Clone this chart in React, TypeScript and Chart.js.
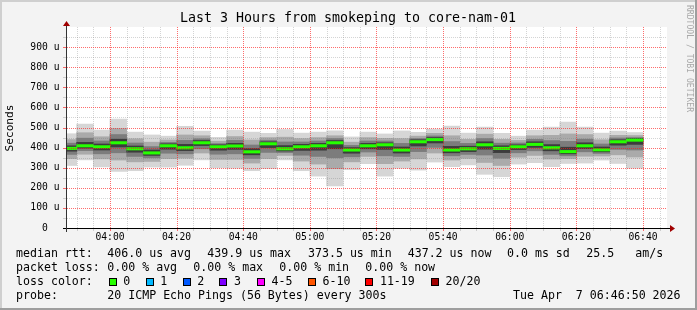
import React, { useEffect, useRef } from 'react';
import { Chart, registerables } from 'chart.js';

Chart.register(...registerables);

// ---------------- data ----------------
const chartTitle = 'Last 3 Hours from smokeping to core-nam-01';
const yAxisTitle = 'Seconds';
const watermark = 'RRDTOOL / TOBI OETIKER';

const axisStart = '03:47:06';
const axisEnd = '06:47:12';

// end time of each 5-minute sample
const binEnds = [
  '03:50', '03:55', '04:00', '04:05', '04:10', '04:15', '04:20', '04:25', '04:30', '04:35',
  '04:40', '04:45', '04:50', '04:55', '05:00', '05:05', '05:10', '05:15', '05:20', '05:25',
  '05:30', '05:35', '05:40', '05:45', '05:50', '05:55', '06:00', '06:05', '06:10', '06:15',
  '06:20', '06:25', '06:30', '06:35', '06:40',
];

// round-trip times in microseconds
const medianRtt = [396, 409, 404, 424, 394, 373.5, 409, 399, 424, 404, 408, 379, 419, 394, 404, 409, 424, 388, 409, 414, 388, 429, 439.9, 388, 394, 414, 396, 404, 416, 399, 380, 409, 389, 429, 437.2];
const maxRtt = [469, 517, 487, 542, 477, 463, 457, 506, 482, 451, 487, 477, 471, 490, 472, 477, 483, 453, 477, 468, 483, 476, 492, 507, 472, 502, 471, 457, 487, 502, 527, 502, 472, 482, 475];
const p90Rtt = [440, 474, 454, 495, 444, 427, 438, 463, 459, 432, 455, 438, 450, 452, 445, 450, 459, 427, 450, 446, 445, 457, 471, 459, 441, 467, 441, 436, 459, 461, 468, 465, 439, 461, 460];
const p75Rtt = [422, 447, 433, 465, 423, 405, 426, 436, 444, 420, 436, 413, 437, 428, 428, 433, 445, 411, 433, 433, 421, 445, 458, 430, 421, 445, 422, 423, 441, 435, 431, 442, 418, 448, 450];
const p60Rtt = [409, 426, 418, 442, 408, 388, 419, 416, 435, 414, 421, 395, 429, 410, 416, 421, 435, 400, 421, 424, 403, 439, 450, 406, 407, 429, 409, 414, 429, 415, 402, 424, 403, 439, 446];
const p40Rtt = [382, 397, 388, 403, 377, 361, 392, 385, 410, 387, 391, 364, 400, 383, 386, 387, 394, 372, 394, 391, 373, 408, 423, 374, 380, 392, 375, 390, 401, 384, 369, 395, 379, 412, 416];
const p25Rtt = [366, 385, 369, 374, 356, 349, 372, 369, 394, 367, 369, 346, 376, 375, 362, 356, 349, 354, 378, 359, 356, 380, 401, 359, 366, 363, 347, 374, 384, 366, 359, 379, 371, 391, 388];
const p10Rtt = [345, 367, 344, 338, 329, 331, 345, 347, 373, 341, 341, 323, 345, 361, 333, 318, 295, 329, 356, 320, 333, 344, 373, 338, 346, 326, 311, 352, 361, 343, 345, 357, 358, 364, 353];
const minRtt = [311, 339, 304, 281, 285, 303, 303, 312, 339, 299, 297, 285, 295, 339, 285, 258, 209, 290, 320, 258, 297, 288, 328, 305, 314, 267, 255, 318, 325, 305, 321, 323, 338, 321, 297];

const xTickLabels = ['04:00', '04:20', '04:40', '05:00', '05:20', '05:40', '06:00', '06:20', '06:40'];
const yMax = 1000;
const yStep = 50;
const yMajorStep = 100;
const yUnit = 'u';

const rttLabel = 'median rtt:';
const rttStats = ['406.0 us avg', '439.9 us max', '373.5 us min', '437.2 us now', '0.0 ms sd', '25.5', 'am/s'];
const lossLabel = 'packet loss:';
const lossStats = ['0.00 % avg', '0.00 % max', '0.00 % min', '0.00 % now'];
const lossColorLabel = 'loss color:';
const lossLabels = ['0', '1', '2', '3', '4-5', '6-10', '11-19', '20/20'];
const lossColors = ['#26ff00', '#00b8ff', '#0059ff', '#7e00ff', '#ff00ff', '#ff5500', '#ff0000', '#a10000'];
const probeLabel = 'probe:';
const probeText = '20 ICMP Echo Pings (56 Bytes) every 300s';
const timestamp = 'Tue Apr  7 06:46:50 2026';

// ---------------- helpers ----------------
const toMin = (s: string) => {
  const p = s.split(':').map(Number);
  return p[0] * 60 + p[1] + (p[2] || 0) / 60;
};
const xMin = toMin(axisStart);
const xMax = toMin(axisEnd);
const binWidth = 5;
const centers = binEnds.map((t) => toMin(t) - binWidth / 2);
const majorMinutes = xTickLabels.map(toMin);
const gridMinutes: number[] = [];
for (let m = Math.ceil(xMin / binWidth) * binWidth; m < xMax; m += binWidth) gridMinutes.push(m);
const gridValues: number[] = [];
for (let v = yStep; v < yMax; v += yStep) gridValues.push(v);

const band = (lo: number[], hi: number[]) => centers.map((x, i) => ({ x, y: [lo[i], hi[i]] }));
const medianBand = centers.map((x, i) => ({ x, y: [medianRtt[i] - 6, medianRtt[i] + 6] }));

const FONT = '"DejaVu Sans Mono", monospace';
const RED_GRID = 'rgba(255,20,20,0.62)';
const GRAY_GRID = 'rgba(120,120,120,0.32)';
const CLEAR = 'rgba(0,0,0,0)';

function txt(ctx: CanvasRenderingContext2D, s: string, x: number, y: number, size: number, align: CanvasTextAlign = 'left', color = '#000') {
  ctx.font = `${size}px ${FONT}`;
  ctx.fillStyle = color;
  ctx.textAlign = align;
  ctx.textBaseline = 'middle';
  ctx.fillText(s, x, y);
}

const decor = {
  id: 'decor',
  beforeDraw(chart: any) {
    const { ctx, chartArea: a, width, height } = chart;
    ctx.save();
    ctx.fillStyle = '#f3f3f3';
    ctx.fillRect(0, 0, width, height);
    ctx.fillStyle = '#cfcfcf';
    ctx.fillRect(0, 0, width, 2);
    ctx.fillRect(0, 0, 2, height);
    ctx.fillStyle = '#9e9e9e';
    ctx.fillRect(0, height - 2, width, 2);
    ctx.fillRect(width - 2, 0, 2, height);
    ctx.fillStyle = '#ffffff';
    ctx.fillRect(a.left, a.top, a.right - a.left, a.bottom - a.top);
    ctx.restore();
  },
  afterDatasetsDraw(chart: any) {
    // dotted rrdtool-style grid, positioned by the chart's scales
    const { ctx, chartArea: a, scales } = chart;
    const xs = scales.x, ys = scales.y;
    ctx.save();
    gridMinutes.forEach((m) => {
      const px = Math.round(xs.getPixelForValue(m));
      ctx.fillStyle = majorMinutes.indexOf(m) >= 0 ? RED_GRID : GRAY_GRID;
      for (let y = Math.ceil(a.top); y < a.bottom; y += 2) ctx.fillRect(px, y, 1, 1);
      ctx.fillRect(px, a.bottom + 1, 1, 2);
    });
    gridValues.forEach((v) => {
      const py = Math.round(ys.getPixelForValue(v));
      ctx.fillStyle = v % yMajorStep === 0 ? RED_GRID : GRAY_GRID;
      for (let x = a.left; x < a.right; x += 2) ctx.fillRect(x, py, 1, 1);
      ctx.fillRect(a.left - 4, py, 3, 1);
    });
    ctx.restore();
  },
  afterDraw(chart: any) {
    const { ctx, chartArea: a } = chart;
    ctx.save();
    // axes
    ctx.fillStyle = '#000';
    ctx.fillRect(a.left - 4, a.bottom, a.right - a.left + 7, 1);
    ctx.fillStyle = '#333';
    ctx.fillRect(a.left - 1, a.top - 3, 1, a.bottom - a.top + 7);
    // arrows
    ctx.fillStyle = '#a00000';
    ctx.beginPath();
    ctx.moveTo(a.left - 0.5, a.top - 6);
    ctx.lineTo(a.left - 4, a.top - 1);
    ctx.lineTo(a.left + 3, a.top - 1);
    ctx.closePath();
    ctx.fill();
    ctx.beginPath();
    ctx.moveTo(a.right + 8, a.bottom + 0.5);
    ctx.lineTo(a.right + 3, a.bottom - 3);
    ctx.lineTo(a.right + 3, a.bottom + 4);
    ctx.closePath();
    ctx.fill();

    // title & side texts
    txt(ctx, chartTitle, 348, 19, 13.3, 'center');
    ctx.save();
    ctx.translate(10.5, 128);
    ctx.rotate(-Math.PI / 2);
    txt(ctx, yAxisTitle, 0, 0, 11.2, 'center');
    ctx.restore();
    ctx.save();
    ctx.translate(689, 58.5);
    ctx.rotate(Math.PI / 2);
    txt(ctx, watermark, 0, 0, 8.1, 'center', '#a8a8a8');
    ctx.restore();

    // legend
    const L = 11.6;
    const y1 = 254, y2 = 268.3, y3 = 282.3, y4 = 296.3;
    txt(ctx, rttLabel, 16, y1, L);
    const rttX = [107.3, 207.3, 308, 407.7, 507, 586.3, 635.3];
    rttStats.forEach((s, i) => txt(ctx, s, rttX[i], y1, L));
    txt(ctx, lossLabel, 16, y2, L);
    const lossX = [107.3, 193.3, 279.3, 365.3];
    lossStats.forEach((s, i) => txt(ctx, s, lossX[i], y2, L));
    txt(ctx, lossColorLabel, 16, y3, L);
    const swX = [108.7, 145.7, 182.7, 219.3, 257, 308, 365.3, 431];
    lossLabels.forEach((s, i) => {
      const x = Math.round(swX[i]);
      ctx.fillStyle = lossColors[i];
      ctx.fillRect(x, 278, 8, 8);
      ctx.strokeStyle = '#000';
      ctx.lineWidth = 1;
      ctx.strokeRect(x + 0.5, 278.5, 7, 7);
      txt(ctx, s, swX[i] + 14.6, y3, L);
    });
    txt(ctx, probeLabel, 16, y4, L);
    txt(ctx, probeText, 107.3, y4, L);
    txt(ctx, timestamp, 513, y4, L);
    ctx.restore();
  },
};

const barDs = (data: any[], color: string, order: number) => ({
  type: 'bar' as const,
  data,
  backgroundColor: color,
  borderWidth: 0,
  grouped: false,
  barPercentage: 1,
  categoryPercentage: 1,
  order,
});

export default function App() {
  const ref = useRef<HTMLCanvasElement>(null);
  useEffect(() => {
    const canvas = ref.current;
    if (!canvas) return;
    const chart = new Chart(canvas, {
      type: 'bar',
      data: {
        datasets: [
          barDs(medianBand, lossColors[0], 0),
          barDs(band(p40Rtt, p60Rtt), '#3c3c3c', 1),
          barDs(band(p25Rtt, p75Rtt), '#7c7c7c', 2),
          barDs(band(p10Rtt, p90Rtt), '#aaaaaa', 3),
          barDs(band(minRtt, maxRtt), '#d6d6d6', 4),
        ] as any,
      },
      options: {
        responsive: false,
        animation: false,
        devicePixelRatio: 1,
        events: [],
        layout: { padding: { left: 0, top: 27, right: 30, bottom: 62 } },
        plugins: { legend: { display: false }, tooltip: { enabled: false }, title: { display: false } },
        scales: {
          x: {
            type: 'linear',
            min: xMin,
            max: xMax,
            bounds: 'data',
            offset: false,
            afterBuildTicks: (scale: any) => {
              scale.ticks = gridMinutes.map((v) => ({ value: v }));
            },
            afterFit: (scale: any) => {
              scale.height = 20;
            },
            grid: { offset: false, tickLength: 3, color: CLEAR },
            border: { display: false },
            ticks: {
              autoSkip: false,
              maxRotation: 0,
              minRotation: 0,
              padding: 1,
              color: '#000',
              font: { family: FONT, size: 9.7 },
              callback: (v: any) => {
                const i = majorMinutes.indexOf(Number(v));
                return i >= 0 ? xTickLabels[i] : '';
              },
            },
          },
          y: {
            type: 'linear',
            min: 0,
            max: yMax,
            beginAtZero: true,
            afterFit: (scale: any) => {
              scale.width = 67;
            },
            grid: { tickLength: 3, color: CLEAR },
            border: { display: false },
            ticks: {
              stepSize: yStep,
              autoSkip: false,
              padding: 4.5,
              color: '#000',
              font: { family: FONT, size: 9.7 },
              callback: (v: any) => {
                const n = Number(v);
                if (n === 0) return '0  ';
                if (n % yMajorStep === 0 && n < yMax) return `${n} ${yUnit}`;
                return '';
              },
            },
          },
        },
      } as any,
      plugins: [decor],
    });
    return () => chart.destroy();
  }, []);
  return (
    <div style={{ position: 'fixed', left: 0, top: 0, width: 697, height: 310 }}>
      <canvas ref={ref} width={697} height={310} style={{ display: 'block', width: 697, height: 310 }} />
    </div>
  );
}
